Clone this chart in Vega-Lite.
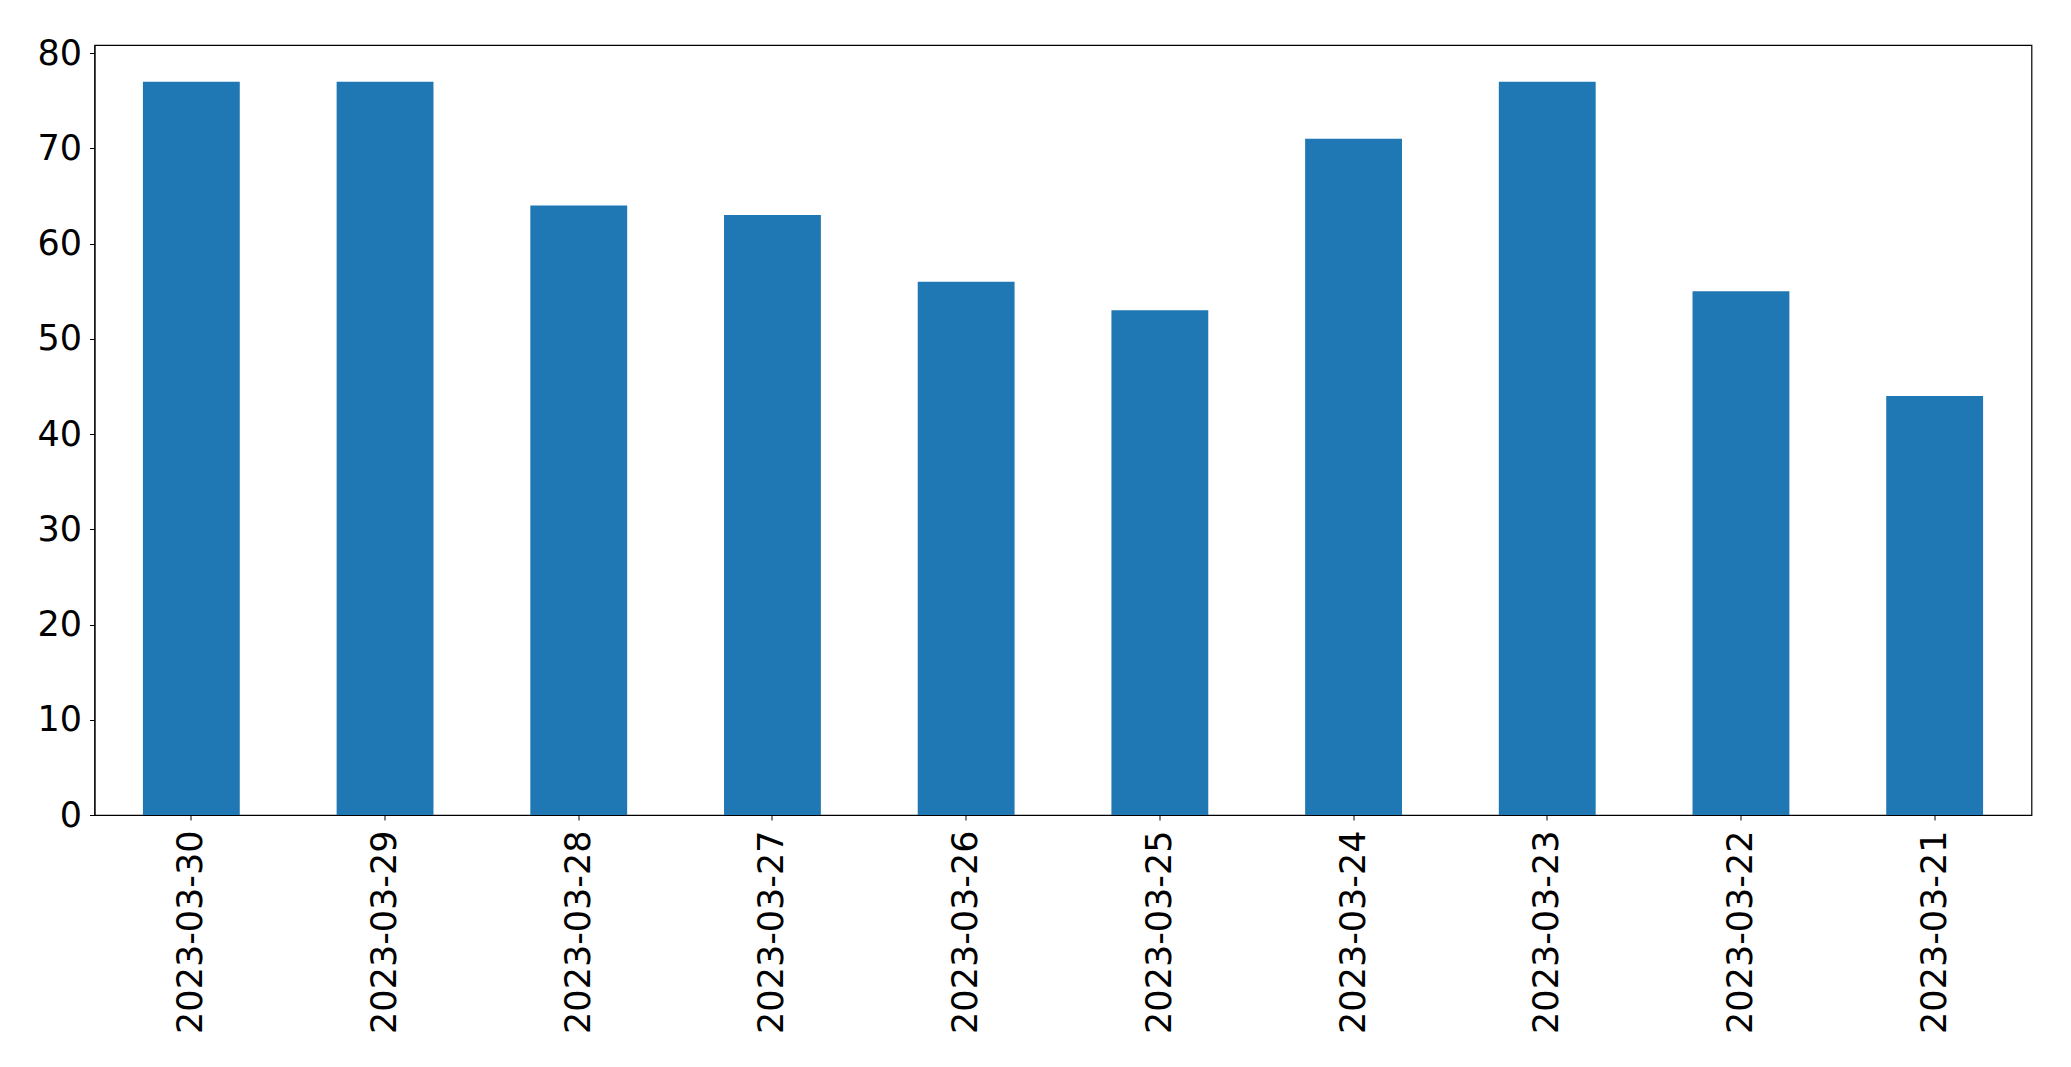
{
  "$schema": "https://vega.github.io/schema/vega-lite/v6.json",
  "width": 1937,
  "height": 770,
  "autosize": "none",
  "padding": {"left": 94.5, "top": 45, "right": 39.5, "bottom": 252},
  "background": "white",
  "config": {
    "view": {"stroke": "black", "strokeWidth": 1.2},
    "axis": {
      "labelFont": "DejaVu Sans",
      "labelFontSize": 35,
      "labelColor": "black",
      "labelLimit": 0,
      "domainColor": "black",
      "tickColor": "black",
      "tickSize": 5,
      "grid": false,
      "title": null
    }
  },
  "data": {
    "values": [
      {"date": "2023-03-30", "count": 77},
      {"date": "2023-03-29", "count": 77},
      {"date": "2023-03-28", "count": 64},
      {"date": "2023-03-27", "count": 63},
      {"date": "2023-03-26", "count": 56},
      {"date": "2023-03-25", "count": 53},
      {"date": "2023-03-24", "count": 71},
      {"date": "2023-03-23", "count": 77},
      {"date": "2023-03-22", "count": 55},
      {"date": "2023-03-21", "count": 44}
    ]
  },
  "mark": {"type": "bar", "color": "#1f77b4"},
  "encoding": {
    "x": {
      "field": "date",
      "type": "nominal",
      "sort": null,
      "scale": {"paddingInner": 0.5, "paddingOuter": 0.25},
      "axis": {"labelAngle": 270, "labelPadding": 10}
    },
    "y": {
      "field": "count",
      "type": "quantitative",
      "scale": {"domain": [0, 80.85], "nice": false},
      "axis": {"values": [0, 10, 20, 30, 40, 50, 60, 70, 80], "labelPadding": 8}
    }
  }
}
